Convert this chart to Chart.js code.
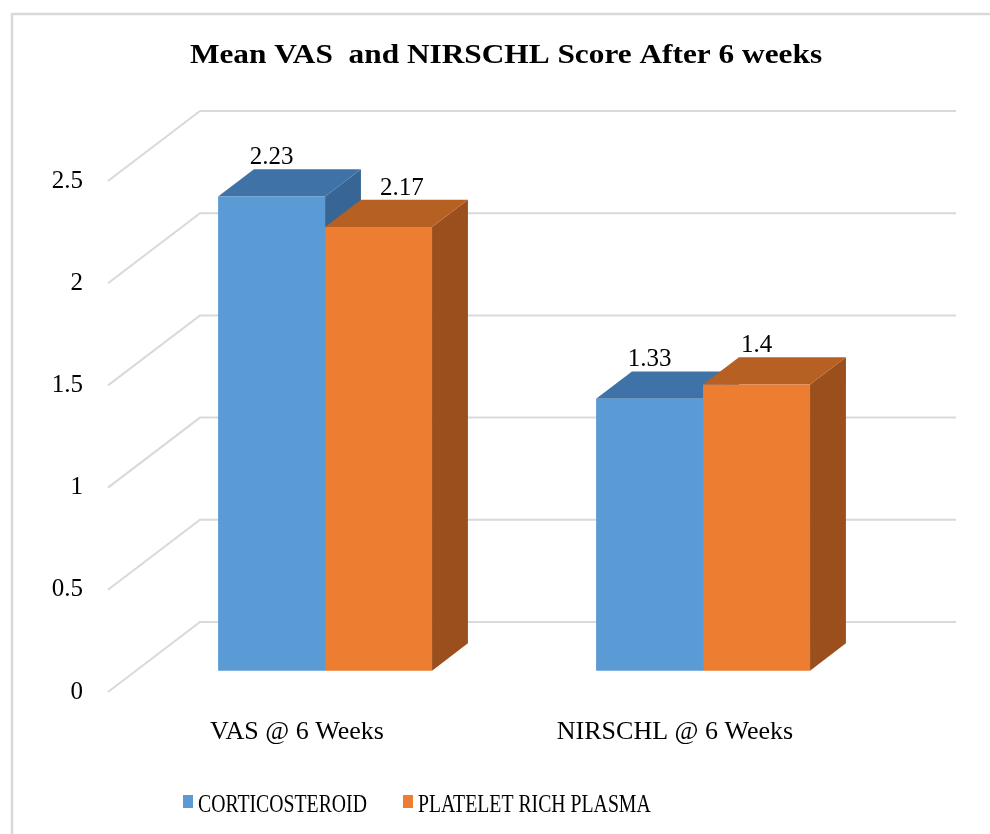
<!DOCTYPE html>
<html>
<head>
<meta charset="utf-8">
<script src="https://cdn.jsdelivr.net/npm/chart.js@4.4.1/dist/chart.umd.min.js"></script>
<style>
  html, body { margin: 0; padding: 0; background: #fff; }
</style>
</head>
<body>
<canvas id="chart" width="990" height="834"></canvas>
<script>
const chartTitle = 'Mean VAS  and NIRSCHL Score After 6 weeks'
const categories = ['VAS @ 6 Weeks', 'NIRSCHL @ 6 Weeks']
const seriesNames = ['CORTICOSTEROID', 'PLATELET RICH PLASMA']
// bar heights
const corticosteroid = [2.32, 1.33]
const plateletRichPlasma = [2.17, 1.4]
// value labels as printed on the picture
const corticosteroidLabels = ['2.23', '1.33']
const plateletRichPlasmaLabels = ['2.17', '1.4']
const yMax = 2.5
const yStep = 0.5

const SERIF = "'Liberation Serif', 'Times New Roman', serif"

// floor depth of the 3d box and where the bars sit in it
const DEPTH = { x: 92, y: -70 }
const FRONT = 0.305
const BACK = 0.695

function shift(x, y, f) {
  return [x + DEPTH.x * f, y + DEPTH.y * f]
}

function poly(ctx, pts, color) {
  ctx.beginPath()
  ctx.moveTo(pts[0][0], pts[0][1])
  for (let i = 1; i < pts.length; i++) ctx.lineTo(pts[i][0], pts[i][1])
  ctx.closePath()
  ctx.fillStyle = color
  ctx.fill()
}

const bars3d = {
  id: 'bars3d',
  beforeDraw(chart) {
    // outer frame
    const ctx = chart.ctx
    ctx.save()
    ctx.strokeStyle = '#d9d9d9'
    ctx.lineWidth = 2.5
    ctx.beginPath()
    ctx.moveTo(12, chart.height)
    ctx.lineTo(12, 14)
    ctx.lineTo(chart.width, 14)
    ctx.stroke()
    ctx.restore()
  },
  beforeDatasetsDraw(chart) {
    // back wall + floor gridlines
    const ctx = chart.ctx
    const area = chart.chartArea
    const y = chart.scales.y
    ctx.save()
    ctx.strokeStyle = '#d9d9d9'
    ctx.lineWidth = 2
    y.ticks.forEach(t => {
      const py = y.getPixelForValue(t.value)
      ctx.beginPath()
      ctx.moveTo(area.left, py)
      ctx.lineTo(area.left + DEPTH.x, py + DEPTH.y)
      ctx.lineTo(area.right + DEPTH.x, py + DEPTH.y)
      ctx.stroke()
    })
    ctx.restore()
  },
  beforeDatasetDraw() {
    return false
  },
  afterDatasetsDraw(chart) {
    const ctx = chart.ctx
    const sets = chart.data.datasets
    ctx.save()
    ctx.font = '25px ' + SERIF
    ctx.textAlign = 'center'
    ctx.textBaseline = 'alphabetic'
    const labelsToDraw = []
    chart.data.labels.forEach((_, i) => {
      let prev = null
      sets.forEach((ds, j) => {
        const el = chart.getDatasetMeta(j).data[i]
        const { x, y, base, width } = el.getProps(['x', 'y', 'base', 'width'], true)
        const l = x - width / 2
        const r = x + width / 2
        poly(ctx, [shift(r, y, FRONT), shift(r, y, BACK), shift(r, base, BACK), shift(r, base, FRONT)], ds.sideColor)
        poly(ctx, [shift(l, y, FRONT), shift(r, y, FRONT), shift(r, y, BACK), shift(l, y, BACK)], ds.topColor)
        poly(ctx, [shift(l, y, FRONT), shift(r, y, FRONT), shift(r, base, FRONT), shift(l, base, FRONT)], ds.backgroundColor)

        const text = ds.valueLabels[i]
        const tw = ctx.measureText(text).width
        const backTop = shift(r, y, BACK)
        const baseline = backTop[1] - 5
        let lx = shift(x, y, FRONT)[0]
        // push label right when it would sit on the neighbour bar
        if (prev && prev.top < baseline) lx = Math.max(lx, prev.right + 19 + tw / 2)
        labelsToDraw.push([text, lx, baseline])
        prev = { top: backTop[1], right: backTop[0] }
      })
    })
    ctx.fillStyle = '#000'
    labelsToDraw.forEach(([t, lx, ly]) => ctx.fillText(t, lx, ly))
    ctx.restore()
  },
  afterDraw(chart) {
    const ctx = chart.ctx
    // title (the picture has it drawn a bit wide)
    ctx.save()
    ctx.fillStyle = '#000'
    ctx.font = 'bold 27px ' + SERIF
    ctx.textAlign = 'center'
    ctx.textBaseline = 'alphabetic'
    ctx.translate(506, 63)
    ctx.scale(1.16, 1)
    ctx.fillText(chartTitle, 0, 0)
    ctx.restore()

    // legend (drawn narrow in the picture)
    ctx.save()
    ctx.font = '26px ' + SERIF
    ctx.textBaseline = 'alphabetic'
    ctx.textAlign = 'left'
    const sx = 0.76
    let cx = 183
    chart.data.datasets.forEach(ds => {
      ctx.fillStyle = ds.backgroundColor
      ctx.fillRect(cx, 795, 10, 13)
      const tw = ctx.measureText(ds.label).width * sx
      ctx.save()
      ctx.translate(cx + 15, 812)
      ctx.scale(sx, 1)
      ctx.fillStyle = '#000'
      ctx.fillText(ds.label, 0, 0)
      ctx.restore()
      cx += 15 + tw + 36
    })
    ctx.restore()
  }
}

const data = {
  labels: categories,
  datasets: [
    {
      label: seriesNames[0],
      data: corticosteroid,
      valueLabels: corticosteroidLabels,
      backgroundColor: '#5b9bd5',
      topColor: '#3f72a6',
      sideColor: '#386694'
    },
    {
      label: seriesNames[1],
      data: plateletRichPlasma,
      valueLabels: plateletRichPlasmaLabels,
      backgroundColor: '#ed7d31',
      topColor: '#b66024',
      sideColor: '#9a4f1c'
    }
  ]
}

const options = {
  responsive: false,
  animation: false,
  events: [],
  layout: { padding: { top: 181, right: 126, bottom: 0, left: 20 } },
  datasets: { bar: { categoryPercentage: 0.566, barPercentage: 1 } },
  scales: {
    x: {
      grid: { display: false, drawTicks: false },
      border: { display: false },
      ticks: { color: '#000', font: { family: SERIF, size: 26 }, padding: 25, maxRotation: 0 },
      afterFit(scale) { scale.height = 142 }
    },
    y: {
      min: 0,
      max: yMax,
      grid: { display: false, drawTicks: false },
      border: { display: false },
      ticks: {
        stepSize: yStep,
        color: '#000',
        font: { family: SERIF, size: 25 },
        padding: 25,
        callback: v => String(v)
      },
      afterFit(scale) { scale.width = 88 }
    }
  },
  plugins: {
    legend: { display: false },
    title: { display: false },
    tooltip: { enabled: false }
  }
}

new Chart(document.getElementById('chart').getContext('2d'), {
  type: 'bar',
  data: data,
  options: options,
  plugins: [bars3d]
})
</script>
</body>
</html>
